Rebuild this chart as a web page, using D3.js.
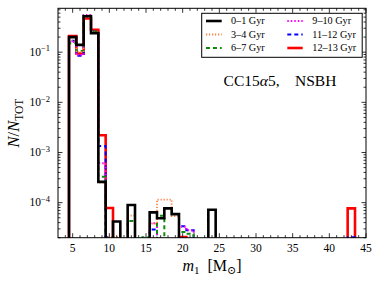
<!DOCTYPE html>
<html><head><meta charset="utf-8">
<script src="https://cdn.jsdelivr.net/npm/d3@7"></script>
<style>
html,body{margin:0;padding:0;background:#fff;}
svg{display:block;}
text{font-family:"Liberation Serif","DejaVu Serif",serif;fill:#000;}
</style></head>
<body>
<svg id="chart" width="382" height="288"></svg>
<script>
// bin centres (bins of width 1 M_sun)
const binCenters = [5,6,7,8,9,10,11,12,13,14,15,16,17,18,19,20,21,22,23,24,25,26,27,28,29,30,31,32,33,34,35,36,37,38,39,40,41,42,43];
// series values (N/N_TOT) per bin
const gyr0_1   = [0.20,0.14,0.52,0.24,2.6e-4,0,4.2e-5,0,9.0e-5,0,0,6.4e-5,4.9e-5,7.7e-5,5.9e-5,0,0,0,0,7.2e-5,0,0,0,0,0,0,0,0,0,0,0,0,0,0,0,0,0,0,0];
const gyr3_4   = [0.17,0.10,0.50,0.25,2.5e-4,2.05e-5,2.05e-5,0,5.5e-5,0,0,3.8e-5,1.15e-4,1.15e-4,5.4e-5,0,0,0,0,0,0,0,0,0,0,0,0,0,0,0,0,0,0,0,0,0,0,0,0];
const gyr6_7   = [0.15,0.106,0.53,0.26,3.3e-4,0,0,0,4.3e-5,0,2.05e-5,0,5.5e-5,0,0,2.6e-5,2.4e-5,0,0,0,0,0,0,0,0,0,0,0,0,0,0,0,0,0,0,0,0,0,0];
const gyr9_10  = [0.16,0.087,0.55,0.25,6.1e-4,0,0,0,0,0,0,3.9e-5,0,0,0,3.3e-5,2.8e-5,0,0,0,0,0,0,0,0,0,0,0,0,0,0,0,0,0,0,0,0,0,0];
const gyr11_12 = [0.17,0.085,0.52,0.26,1.34e-3,2.05e-5,0,0,0,0,0,2.9e-5,0,0,0,3.4e-5,2.8e-5,0,0,0,0,0,0,0,0,0,0,0,0,0,0,0,0,0,0,0,0,0,2.05e-5];
const gyr12_13 = [0.21,0.094,0.47,0.28,2.2e-3,7.8e-5,0,0,0,0,0,0,0,0,0,2.05e-5,0,0,0,0,0,0,0,0,0,0,0,0,0,0,0,0,0,0,0,0,0,0,7.7e-5];
const seriesLabels = ["0\u20131 Gyr","3\u20134 Gyr","6\u20137 Gyr","9\u201310 Gyr","11\u201312 Gyr","12\u201313 Gyr"];
const xTicks = [5,10,15,20,25,30,35,40,45];
const yTicks = [1e-4,1e-3,1e-2,1e-1];
const yTickExp = ["\u22124","\u22123","\u22122","\u22121"];

const W = 382, H = 288;
const L = 58, R = 366, T = 8.3, B = 237.7;
const svg = d3.select("#chart");

const x = d3.scaleLinear().domain([3,45]).range([L,R]);
const y = d3.scaleLog().domain([2e-5,0.75]).range([B,T]);

svg.append("defs").append("clipPath").attr("id","clip")
  .append("rect").attr("x",L).attr("y",T).attr("width",R-L).attr("height",B-T);

const styles = [
  {data:gyr0_1,   color:"#000000", w:2.6, dash:null},
  {data:gyr3_4,   color:"#ff7f3f", w:1.8, dash:"1.2,1.8"},
  {data:gyr6_7,   color:"#0f8a0f", w:2.0, dash:"4,3"},
  {data:gyr9_10,  color:"#ff00ff", w:2.0, dash:"1.5,2,1.5,2"},
  {data:gyr11_12, color:"#0000ff", w:2.0, dash:"4,3"},
  {data:gyr12_13, color:"#ff0000", w:2.6, dash:null}
];

function stepPts(vals){
  const floor = 1e-7;
  const pts = [];
  const e0 = binCenters[0]-0.5;
  pts.push([e0, floor]);
  vals.forEach((v,i)=>{
    const vv = v>0 ? v : floor;
    pts.push([binCenters[i]-0.5, vv]);
    pts.push([binCenters[i]+0.5, vv]);
  });
  pts.push([binCenters[binCenters.length-1]+0.5, floor]);
  return pts;
}
const line = d3.line().x(d=>x(d[0])).y(d=>y(d[1]));
const g = svg.append("g").attr("clip-path","url(#clip)");
const drawOrder = [5,4,3,2,1,0];
drawOrder.forEach(i=>{
  const s = styles[i];
  g.append("path").attr("d", line(stepPts(s.data)))
    .attr("fill","none").attr("stroke",s.color).attr("stroke-width",s.w)
    .attr("stroke-linejoin","miter")
    .attr("stroke-dasharray", s.dash);
});

// frame
svg.append("rect").attr("x",L).attr("y",T).attr("width",R-L).attr("height",B-T)
  .attr("fill","none").attr("stroke","#000").attr("stroke-width",1);

// ticks (inward, all sides)
const tg = svg.append("g").attr("stroke","#000").attr("stroke-width",0.8);
const xMinor = d3.range(4,45,1).filter(v=>v%5!==0);
xTicks.forEach(v=>{
  tg.append("line").attr("x1",x(v)).attr("x2",x(v)).attr("y1",B).attr("y2",B-4.5);
  tg.append("line").attr("x1",x(v)).attr("x2",x(v)).attr("y1",T).attr("y2",T+4.5);
});
xMinor.forEach(v=>{
  tg.append("line").attr("x1",x(v)).attr("x2",x(v)).attr("y1",B).attr("y2",B-2.5);
  tg.append("line").attr("x1",x(v)).attr("x2",x(v)).attr("y1",T).attr("y2",T+2.5);
});
yTicks.forEach(v=>{
  tg.append("line").attr("x1",L).attr("x2",L+4.5).attr("y1",y(v)).attr("y2",y(v));
  tg.append("line").attr("x1",R).attr("x2",R-4.5).attr("y1",y(v)).attr("y2",y(v));
});
const yMinor = [];
[1e-5,1e-4,1e-3,1e-2,1e-1].forEach(d=>{ for(let k=2;k<=9;k++){ const v=d*k; if(v>=2e-5 && v<=0.75) yMinor.push(v);} });
yMinor.forEach(v=>{
  tg.append("line").attr("x1",L).attr("x2",L+2.5).attr("y1",y(v)).attr("y2",y(v));
  tg.append("line").attr("x1",R).attr("x2",R-2.5).attr("y1",y(v)).attr("y2",y(v));
});

// tick labels
xTicks.forEach(v=>{
  svg.append("text").attr("x",x(v)).attr("y",252).attr("text-anchor","middle")
    .attr("font-size",11.5).text(v);
});
yTicks.forEach((v,i)=>{
  const t = svg.append("text").attr("x",50).attr("y",y(v)+3.8).attr("text-anchor","end").attr("font-size",11.5);
  t.append("tspan").text("10");
  t.append("tspan").attr("dy",-4.5).attr("font-size",8.5).text(yTickExp[i]);
});

// axis labels
const xl = svg.append("text").attr("x",(L+R)/2).attr("y",271).attr("text-anchor","middle").attr("font-size",16);
xl.append("tspan").attr("font-style","italic").text("m");
xl.append("tspan").attr("dy",3).attr("font-size",11).text("1");
xl.append("tspan").attr("dy",-3).text("\u2002[M");
xl.append("tspan").attr("dy",3).attr("font-size",11).text("\u2299");
xl.append("tspan").attr("dy",-3).text("]");

const yl = svg.append("text").attr("transform",`translate(19,${(T+B)/2}) rotate(-90)`)
  .attr("text-anchor","middle").attr("font-size",16.5);
yl.append("tspan").attr("font-style","italic").text("N");
yl.append("tspan").text("/");
yl.append("tspan").attr("font-style","italic").text("N");
yl.append("tspan").attr("dy",3.5).attr("font-size",11.5).text("TOT");

// annotation
const an = svg.append("text").attr("x",280).attr("y",86).attr("text-anchor","middle").attr("font-size",15.5);
an.append("tspan").text("CC15");
an.append("tspan").attr("font-style","italic").text("\u03b1");
an.append("tspan").text("5,\u2003NSBH");

// legend
const lg = svg.append("g");
lg.append("rect").attr("x",201.7).attr("y",13.3).attr("width",160.5).attr("height",44)
  .attr("fill","#fff").attr("stroke","#000").attr("stroke-width",1);
const rowsY = [21,34.5,48];
const colX = [[206,221.7,231],[287.3,302.7,312.3]];
styles.forEach((s,i)=>{
  const col = Math.floor(i/3), row = i%3;
  const [x1,x2,tx] = colX[col];
  lg.append("line").attr("x1",x1).attr("x2",x2).attr("y1",rowsY[row]).attr("y2",rowsY[row])
    .attr("stroke",s.color).attr("stroke-width",s.w).attr("stroke-dasharray",s.dash);
  lg.append("text").attr("x",tx).attr("y",rowsY[row]+3.4).attr("font-size",10.2).text(seriesLabels[i]);
});
</script>
</body></html>
